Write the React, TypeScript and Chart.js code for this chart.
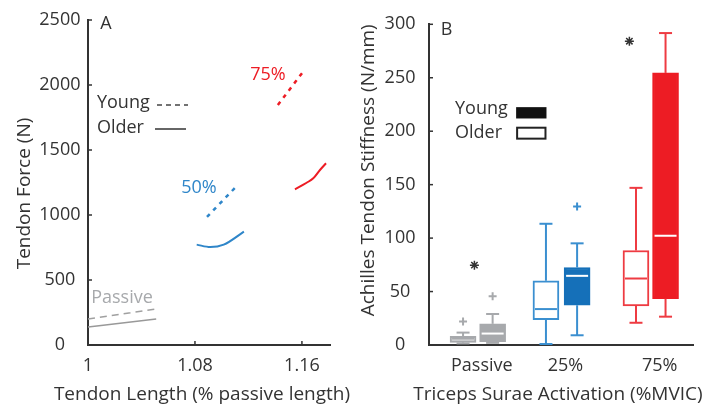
import React, { useEffect, useRef } from 'react';
import { Chart, registerables } from 'chart.js';

Chart.register(...registerables);

const FONT = '"Open Sans", "Noto Sans", "Liberation Sans", sans-serif';
const TEXT = '#333333';
const AXIS = '#333333';
const GRAY = '#a7a9ac';
const BLUE = '#2f86c9';
const BLUE_LIGHT = '#3a8fd0';
const BLUE_DARK = '#1570b9';
const RED = '#ed1c24';
const RED_LIGHT = '#ee3b42';

// ---------- Panel A data ----------
const forceTicks = [0, 500, 1000, 1500, 2000, 2500];
const lengthTicks = [1, 1.08, 1.16];
const lengthTickLabels = ['1', '1.08', '1.16'];

const passiveYoungLength = [1.0, 1.051];
const passiveYoungForce = [200, 277];
const passiveOlderLength = [1.0, 1.051];
const passiveOlderForce = [138, 200];
const act50YoungLength = [1.089, 1.112];
const act50YoungForce = [985, 1231];
const act50OlderLength = [1.0813, 1.0915, 1.1015, 1.1166];
const act50OlderForce = [772, 753, 772, 872];
const act75YoungLength = [1.142, 1.1607];
const act75YoungForce = [1846, 2100];
const act75OlderLength = [1.1548, 1.1635, 1.1685, 1.1735, 1.178];
const act75OlderForce = [1198, 1248, 1282, 1346, 1398];

// ---------- Panel B data ----------
const stiffTicks = [0, 50, 100, 150, 200, 250, 300];
const activationLabels = ['Passive', '25%', '75%'];
const activationLabelPos = [2.0, 5.17, 8.74];
const boxGroup = ['Older', 'Young', 'Older', 'Young', 'Older', 'Young'];
const boxPos = [1.29, 2.41, 4.43, 5.61, 7.84, 8.96];
const boxMin = [1.5, 2, 0.9, 9.1, 20.8, 26.5];
const boxQ1 = [2.5, 3, 23.8, 37.2, 36.6, 43.3];
const boxMedian = [6.1, 10.7, 33.6, 64.7, 62.2, 102.2];
const boxQ3 = [8.2, 19.8, 60.1, 72.5, 88.4, 254.5];
const boxMax = [11.6, 29, 113.4, 95.1, 147, 291.8];
const outlierPos = [1.29, 2.41, 5.61];
const outlierValue = [22, 45.7, 129.6];
const sigPos = [1.72, 7.59];
const sigValue = [74.7, 284.2];

const boxFill = ['#d6d7d9', GRAY, '#ffffff', BLUE_DARK, '#ffffff', RED];
const boxBorder = [GRAY, GRAY, BLUE_LIGHT, BLUE_DARK, RED_LIGHT, RED];
const whiskerColor = [GRAY, GRAY, BLUE_LIGHT, BLUE_LIGHT, RED_LIGHT, RED_LIGHT];
const medianColor = [GRAY, '#ffffff', BLUE_LIGHT, '#ffffff', RED_LIGHT, '#ffffff'];
const outlierColor = [GRAY, GRAY, BLUE_LIGHT];

const pts = (xs: number[], ys: number[]) => xs.map((x, i) => ({ x, y: ys[i] }));

function text(ctx: CanvasRenderingContext2D, s: string, x: number, y: number, color: string, size: number, align: CanvasTextAlign = 'left') {
  ctx.font = `${size}px ${FONT}`;
  ctx.fillStyle = color;
  ctx.textAlign = align;
  ctx.textBaseline = 'middle';
  ctx.fillText(s, x, y);
}

function seg(ctx: CanvasRenderingContext2D, x1: number, y1: number, x2: number, y2: number) {
  ctx.beginPath();
  ctx.moveTo(x1, y1);
  ctx.lineTo(x2, y2);
  ctx.stroke();
}

const lineDs = (xs: number[], ys: number[], color: string, dash: number[], width: number) => ({
  data: pts(xs, ys),
  showLine: true,
  borderColor: color,
  backgroundColor: color,
  borderWidth: width,
  borderDash: dash,
  pointRadius: 0,
  cubicInterpolationMode: 'monotone',
  fill: false,
});

const tickFont = { family: FONT, size: 18 };
const titleFont = { family: FONT, size: 19 };

function configA(): any {
  const plugin = {
    id: 'annotA',
    afterDraw(chart: any) {
      const { ctx, chartArea } = chart;
      const x = chart.scales.x;
      const y = chart.scales.y;
      const X = (v: number) => x.getPixelForValue(v);
      const Y = (v: number) => y.getPixelForValue(v);
      ctx.save();
      ctx.strokeStyle = AXIS;
      ctx.lineWidth = 1.5;
      forceTicks.slice(1).forEach((v) => seg(ctx, x.left, Y(v), x.left + 4, Y(v)));
      lengthTicks.slice(1).forEach((v) => seg(ctx, X(v), y.bottom, X(v), y.bottom - 4));
      text(ctx, 'Tendon Length (% passive length)', (chartArea.left + chartArea.right) / 2 - 7, chart.height - 14, TEXT, 19, 'center');
      ctx.save();
      ctx.translate(25, (chartArea.top + chartArea.bottom) / 2 + 11);
      ctx.rotate(-Math.PI / 2);
      text(ctx, 'Tendon Force (N)', 0, 0, TEXT, 19, 'center');
      ctx.restore();
      text(ctx, 'A', X(1.0135), Y(2469), TEXT, 18, 'center');
      text(ctx, '75%', X(1.1346), Y(2081), RED, 18, 'center');
      text(ctx, '50%', X(1.083), Y(1208), BLUE, 18, 'center');
      text(ctx, 'Passive', X(1.0254), Y(362), GRAY, 18, 'center');
      text(ctx, 'Young', X(1.0067), Y(1862), TEXT, 18, 'left');
      text(ctx, 'Older', X(1.0067), Y(1669), TEXT, 18, 'left');
      ctx.strokeStyle = '#444';
      ctx.lineWidth = 1.5;
      ctx.setLineDash([5, 4]);
      seg(ctx, X(1.0516), Y(1846), X(1.0748), Y(1846));
      ctx.setLineDash([]);
      ctx.strokeStyle = '#333';
      seg(ctx, X(1.0501), Y(1662), X(1.0733), Y(1662));
      ctx.restore();
    },
  };
  return {
    type: 'scatter',
    data: {
      datasets: [
        lineDs(passiveYoungLength, passiveYoungForce, '#a0a0a0', [7, 5], 1.5),
        lineDs(passiveOlderLength, passiveOlderForce, '#999999', [], 1.5),
        lineDs(act50YoungLength, act50YoungForce, BLUE, [4, 5], 2.5),
        lineDs(act50OlderLength, act50OlderForce, BLUE, [], 2),
        lineDs(act75YoungLength, act75YoungForce, RED, [4, 5], 2.5),
        lineDs(act75OlderLength, act75OlderForce, RED, [], 2),
      ],
    },
    options: {
      animation: false,
      responsive: false,
      layout: { padding: { left: 0, right: 30, top: 20, bottom: 0 } },
      plugins: { legend: { display: false }, tooltip: { enabled: false } },
      scales: {
        x: {
          type: 'linear',
          min: 1,
          max: 1.181,
          afterBuildTicks: (s: any) => { s.ticks = lengthTicks.map((v) => ({ value: v })); },
          afterFit: (s: any) => { s.height = 64; },
          grid: { display: false, drawTicks: false },
          border: { display: true, color: AXIS, width: 2 },
          ticks: {
            padding: 10, color: TEXT, font: tickFont, autoSkip: false, maxRotation: 0,
            callback: (_v: any, i: number) => lengthTickLabels[i],
          },
          title: { display: false },
        },
        y: {
          type: 'linear',
          min: 0,
          max: 2500,
          afterBuildTicks: (s: any) => { s.ticks = forceTicks.map((v) => ({ value: v })); },
          afterFit: (s: any) => { s.width = 88; },
          grid: { display: false, drawTicks: false },
          border: { display: true, color: AXIS, width: 2 },
          ticks: { padding: 7.5, crossAlign: 'center', color: TEXT, font: tickFont, callback: (v: any) => String(v) },
          title: { display: false },
        },
      },
    },
    plugins: [plugin],
  };
}

function configB(): any {
  const plugin = {
    id: 'boxExtras',
    afterDatasetsDraw(chart: any) {
      const { ctx } = chart;
      const x = chart.scales.x;
      const y = chart.scales.y;
      const meta = chart.getDatasetMeta(0);
      const CAP = 6.5;
      ctx.save();
      ctx.lineWidth = 2;
      boxPos.forEach((p, i) => {
        const px = x.getPixelForValue(p);
        const yMin = y.getPixelForValue(boxMin[i]);
        const yMax = y.getPixelForValue(boxMax[i]);
        const yQ1 = y.getPixelForValue(boxQ1[i]);
        const yQ3 = y.getPixelForValue(boxQ3[i]);
        const yMed = y.getPixelForValue(boxMedian[i]);
        ctx.strokeStyle = whiskerColor[i];
        seg(ctx, px, yQ3, px, yMax);
        seg(ctx, px - CAP, yMax, px + CAP, yMax);
        seg(ctx, px, yQ1, px, yMin);
        seg(ctx, px - CAP, yMin, px + CAP, yMin);
        const w = meta.data[i] ? meta.data[i].width : 26;
        const half = w / 2 - 2;
        ctx.strokeStyle = medianColor[i];
        seg(ctx, px - half, yMed, px + half, yMed);
      });
      ctx.restore();
    },
    afterDraw(chart: any) {
      const { ctx, chartArea } = chart;
      const x = chart.scales.x;
      const y = chart.scales.y;
      const X = (v: number) => x.getPixelForValue(v);
      const Y = (v: number) => y.getPixelForValue(v);
      ctx.save();
      ctx.strokeStyle = AXIS;
      ctx.lineWidth = 1.5;
      stiffTicks.slice(1).forEach((v) => seg(ctx, x.left, Y(v), x.left + 4, Y(v)));
      text(ctx, 'Triceps Surae Activation (%MVIC)', (chartArea.left + chartArea.right) / 2 - 3, chart.height - 14, TEXT, 19, 'center');
      text(ctx, 'B', X(0.67), Y(294.5), TEXT, 18, 'center');
      text(ctx, 'Young', X(0.985), Y(221.3), TEXT, 18, 'left');
      text(ctx, 'Older', X(0.985), Y(198.8), TEXT, 18, 'left');
      ctx.fillStyle = '#111';
      ctx.fillRect(X(3.3), Y(222.5), X(4.45) - X(3.3), Y(211.9) - Y(222.5));
      ctx.strokeStyle = '#222';
      ctx.lineWidth = 2;
      ctx.strokeRect(X(3.3) + 1, Y(204.2) + 1, X(4.45) - X(3.3) - 2, Y(192.1) - Y(204.2) - 2);
      ctx.restore();
    },
  };
  return {
    type: 'bar',
    data: {
      datasets: [
        {
          type: 'bar',
          label: 'boxes',
          data: boxPos.map((p, i) => ({ x: p, y: [boxQ1[i], boxQ3[i]], g: boxGroup[i] })),
          backgroundColor: boxFill,
          borderColor: boxBorder,
          borderWidth: 2,
          borderSkipped: false,
          barThickness: 26,
          grouped: false,
          order: 2,
        },
        {
          type: 'scatter',
          label: 'outliers',
          data: pts(outlierPos, outlierValue),
          pointStyle: 'cross',
          pointRadius: 4,
          borderColor: outlierColor,
          backgroundColor: outlierColor,
          borderWidth: 2,
          order: 1,
        },
        {
          type: 'scatter',
          label: 'significance',
          data: pts(sigPos, sigValue),
          pointStyle: 'star',
          pointRadius: 4.5,
          borderColor: '#333',
          backgroundColor: '#333',
          borderWidth: 1.5,
          order: 0,
        },
      ],
    },
    options: {
      animation: false,
      responsive: false,
      layout: { padding: { left: 0, right: 24, top: 17, bottom: 0 } },
      plugins: { legend: { display: false }, tooltip: { enabled: false } },
      scales: {
        x: {
          type: 'linear',
          min: 0,
          max: 10,
          offset: false,
          afterBuildTicks: (s: any) => { s.ticks = activationLabelPos.map((v) => ({ value: v })); },
          afterFit: (s: any) => { s.height = 64; },
          grid: { display: false, drawTicks: false, offset: false },
          border: { display: true, color: AXIS, width: 2 },
          ticks: {
            padding: 10, color: TEXT, font: tickFont, autoSkip: false, maxRotation: 0,
            callback: (_v: any, i: number) => activationLabels[i],
          },
          title: { display: false },
        },
        y: {
          type: 'linear',
          min: 0,
          max: 300,
          afterBuildTicks: (s: any) => { s.ticks = stiffTicks.map((v) => ({ value: v })); },
          afterFit: (s: any) => { s.width = 69; },
          grid: { display: false, drawTicks: false },
          border: { display: true, color: AXIS, width: 2 },
          ticks: { padding: 13.5, crossAlign: 'center', color: TEXT, font: tickFont, callback: (v: any) => String(v) },
          title: { display: true, text: 'Achilles Tendon Stiffness (N/mm)', align: 'end', color: TEXT, font: titleFont, padding: { top: -2.4, bottom: 0 } },
        },
      },
    },
    plugins: [plugin],
  };
}

export default function App() {
  const refA = useRef<HTMLCanvasElement>(null);
  const refB = useRef<HTMLCanvasElement>(null);
  useEffect(() => {
    const a = new Chart(refA.current as HTMLCanvasElement, configA());
    const b = new Chart(refB.current as HTMLCanvasElement, configB());
    return () => {
      a.destroy();
      b.destroy();
    };
  }, []);
  return (
    <div style={{ position: 'absolute', left: 0, top: 0, width: 717, height: 409, background: '#ffffff' }}>
      <canvas ref={refA} width={360} height={409} style={{ position: 'absolute', left: 0, top: 0, width: 360, height: 409 }} />
      <canvas ref={refB} width={357} height={409} style={{ position: 'absolute', left: 360, top: 0, width: 357, height: 409 }} />
    </div>
  );
}
